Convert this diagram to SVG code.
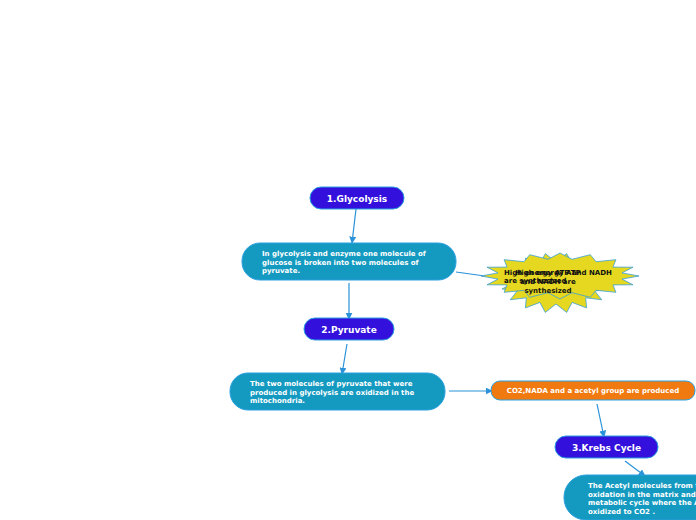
<svg xmlns="http://www.w3.org/2000/svg" width="696" height="520" viewBox="0 0 696 520">
<defs>
<marker id="ah" viewBox="0 0 10 10" refX="9" refY="5" markerWidth="7" markerHeight="7" markerUnits="userSpaceOnUse" orient="auto">
<path d="M0,0 L10,5 L0,10 z" fill="#2a92d8"/>
</marker>
<style>
.t{fill:#3310dc;stroke:#2aa0e0;stroke-width:1}
.d{fill:#1499c0;stroke:#2aa0e0;stroke-width:1}
.o{fill:#f07a10;stroke:#2aa0e0;stroke-width:1}
.b{fill:#e6d820;stroke:#3aa0d8;stroke-width:0.8}
.tt{font-family:"DejaVu Sans",sans-serif;font-weight:bold;font-size:9px;fill:#fff;text-anchor:middle}
.dt{font-family:"DejaVu Sans",sans-serif;font-weight:bold;font-size:7px;fill:#fff}
.bt{font-family:"DejaVu Sans",sans-serif;font-weight:bold;font-size:7px;fill:#111}
.c{stroke:#2a92d8;stroke-width:1.2;fill:none}
</style>
</defs>
<rect width="696" height="520" fill="#fff"/>
<g id="connectors">
<line class="c" x1="356" y1="209" x2="352" y2="243" marker-end="url(#ah)"/>
<line class="c" x1="349" y1="283" x2="349" y2="319" marker-end="url(#ah)"/>
<line class="c" x1="347" y1="344" x2="342" y2="374" marker-end="url(#ah)"/>
<line class="c" x1="449" y1="391" x2="492" y2="391" marker-end="url(#ah)"/>
<line class="c" x1="597" y1="404" x2="604" y2="437" marker-end="url(#ah)"/>
<line class="c" x1="625" y1="461" x2="645" y2="476" marker-end="url(#ah)"/>
<line class="c" x1="456" y1="272" x2="492" y2="277"/>
</g>
<g id="glycolysis">
<rect class="t" x="310" y="187" width="94" height="22" rx="11"/>
<text class="tt" x="357" y="202">1.Glycolysis</text>
</g>
<g id="glycolysis-desc">
<rect class="d" x="242" y="243" width="214" height="37" rx="18"/>
<text class="dt" x="262" y="256">In glycolysis and enzyme one molecule of</text>
<text class="dt" x="262" y="265">glucose is broken into two molecules of</text>
<text class="dt" x="262" y="273">pyruvate.</text>
</g>
<g id="energy">
<polygon class="b" points="598,283 610,288.9 594.8,291 601.7,299.7 585.7,297.8 586.6,307.9 572.1,302.4 566.7,312.4 556,304 545.3,312.4 539.9,302.4 525.4,307.9 526.3,297.8 510.3,299.7 517.2,291 502,288.9 514,283 502,277.1 517.2,275 510.3,266.3 526.3,268.2 525.4,258.1 539.9,263.6 545.3,253.6 556,262 566.7,253.6 572.1,263.6 586.6,258.1 585.7,268.2 601.7,266.3 594.8,275 610,277.1"/>
<polygon class="b" points="639,276 622,279.1 633,284.8 613,284.9 615.9,292.3 596,290.3 590.3,297.3 572,292.7 560,299 548,292.7 529.7,297.3 524,290.3 504.1,292.3 507,284.9 487,284.8 498,279.1 481,276 498,272.9 487,267.2 507,267.1 504.1,259.7 524,261.7 529.7,254.7 548,259.3 560,253 572,259.3 590.3,254.7 596,261.7 615.9,259.7 613,267.1 633,267.2 622,272.9"/>
<text class="bt" x="504" y="275">High energy ATP and NADH</text>
<text class="bt" x="504" y="283">are synthesized</text>
<text class="bt" x="548" y="275" text-anchor="middle">High energy ATP</text>
<text class="bt" x="548" y="284" text-anchor="middle">and NADH are</text>
<text class="bt" x="548" y="293" text-anchor="middle">synthesized</text>
</g>
<g id="pyruvate">
<rect class="t" x="304" y="318" width="90" height="22" rx="11"/>
<text class="tt" x="349" y="333">2.Pyruvate</text>
</g>
<g id="pyruvate-desc">
<rect class="d" x="230" y="373" width="215" height="37" rx="18"/>
<text class="dt" x="250" y="386">The two molecules of pyruvate that were</text>
<text class="dt" x="250" y="395">produced in glycolysis are oxidized in the</text>
<text class="dt" x="250" y="403">mitochondria.</text>
</g>
<g id="products">
<rect class="o" x="491" y="381" width="204" height="19" rx="9"/>
<text class="dt" x="593" y="393" text-anchor="middle">CO2,NADA and a acetyl group are produced</text>
</g>
<g id="krebs">
<rect class="t" x="555" y="436" width="103" height="22" rx="11"/>
<text class="tt" x="606.5" y="451">3.Krebs Cycle</text>
</g>
<g id="krebs-desc">
<rect class="d" x="564" y="475" width="200" height="45" rx="22"/>
<text class="dt" x="588" y="488">The Acetyl molecules from the</text>
<text class="dt" x="588" y="497">oxidation in the matrix and enter a</text>
<text class="dt" x="588" y="505">metabolic cycle where the Acetyl is</text>
<text class="dt" x="588" y="514">oxidized to CO2 .</text>
</g>
</svg>
